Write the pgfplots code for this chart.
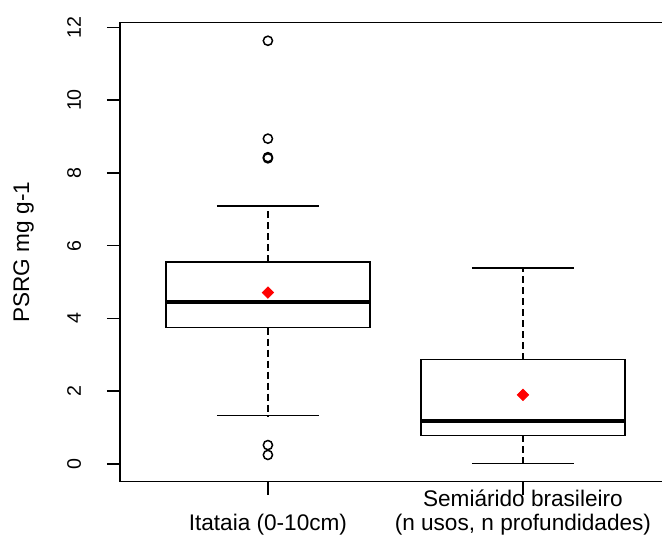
\documentclass[border=0pt]{standalone}
\usepackage{fontspec}
\setmainfont{Liberation Sans}
\usepackage{pgfplots}
\pgfplotsset{compat=1.18}
\usepgfplotslibrary{statistics}

\begin{document}
\begin{tikzpicture}
\begin{axis}[
  at={(0,0)}, anchor=south west,
  scale only axis, width=275.4pt, height=229.5pt,
  xmin=0.42, xmax=2.58, ymin=-0.486, ymax=12.126,
  xtick={1,2},
  xticklabels={{\strut\\Itataia (0-10cm)},{\strut Semiárido brasileiro\\(n usos, n profundidades)}},
  ytick={0,2,4,6,8,10,12},
  /pgf/number format/assume math mode=true,
  tick align=outside, major tick length=6.5pt,
  xtick pos=left, ytick pos=left,
  tick style={black, line width=0.75pt},
  axis line style={black, line width=0.75pt},
  xticklabel style={font=\fontsize{11.3}{12.3}\selectfont, align=center, anchor=north, inner sep=0pt},
  xticklabel shift=-3.1pt,
  yticklabel style={font=\fontsize{9.8}{11}\selectfont, rotate=90, anchor=base, inner sep=0pt},
  yticklabel shift=13pt,
  ylabel={PSRG mg g-1},
  ylabel style={font=\fontsize{11.3}{12.3}\selectfont, at={(axis description cs:-0.1943,0.5)}, anchor=north, rotate=0, inner sep=0pt},
  boxplot/draw direction=y,
  boxplot/every median/.style={line width=2.2pt},
  boxplot/draw/lower whisker/.code={%
    \draw[dash pattern=on 3.5pt off 2pt]
      (boxplot cs:\pgfplotsboxplotvalue{lower quartile}) --
      (boxplot cs:\pgfplotsboxplotvalue{lower whisker});
    \draw[solid]
      (boxplot whisker cs:\pgfplotsboxplotvalue{lower whisker},0) --
      (boxplot whisker cs:\pgfplotsboxplotvalue{lower whisker},1);
  },
  boxplot/draw/upper whisker/.code={%
    \draw[dash pattern=on 3.5pt off 2pt]
      (boxplot cs:\pgfplotsboxplotvalue{upper quartile}) --
      (boxplot cs:\pgfplotsboxplotvalue{upper whisker});
    \draw[solid]
      (boxplot whisker cs:\pgfplotsboxplotvalue{upper whisker},0) --
      (boxplot whisker cs:\pgfplotsboxplotvalue{upper whisker},1);
  },
]
\addplot[black, solid, line width=0.75pt, mark=o, mark size=2.3pt, mark options={solid, line width=0.75pt},
  boxplot prepared={draw position=1, median=4.46, lower quartile=3.75, upper quartile=5.55,
    lower whisker=1.33, upper whisker=7.09, box extend=0.8, whisker extend=0.4}]
  table[row sep=\\, y index=0] {11.63\\ 8.94\\ 8.43\\ 8.40\\ 0.52\\ 0.25\\};
\addplot[black, solid, line width=0.75pt,
  boxplot prepared={draw position=2, median=1.19, lower quartile=0.79, upper quartile=2.87,
    lower whisker=0.02, upper whisker=5.39, box extend=0.8, whisker extend=0.4}]
  coordinates {};
\addplot[only marks, red, mark=square*, mark size=2pt, mark options={rotate=45, fill=red, draw=red}]
  coordinates {(1,4.71) (2,1.90)};
\end{axis}
\pgfresetboundingbox
\useasboundingbox (-60pt,-28.15pt) rectangle (271pt,240.85pt);
\end{tikzpicture}
\end{document}
